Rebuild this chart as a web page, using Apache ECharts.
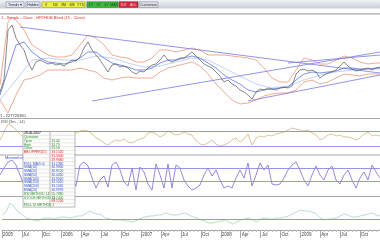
<!DOCTYPE html>
<html><head><meta charset="utf-8">
<script src="https://cdn.jsdelivr.net/npm/echarts@6/dist/echarts.min.js"></script>
<style>html,body{margin:0;padding:0;background:#fff}#c{width:380px;height:240px}</style>
</head><body><div id="c"></div>
<script>
// ---- data (x = trading-day index 0..95) ----
const priceVals = [26,38,88,93,80,73,68,56,48,56,58,56,54,55,53,54,52,55,58,57,61,70,76,68,63,58,52,46,53,54,51,52,50,46,44,47,46,50,53,54,58,63,58,56,58,60,60,63,66,62,58,54,52,50,46,42,36,38,34,32,28,26,23,19,26,29,28,30,29,28,30,31,30,32,44,48,49,47,48,46,40,43,45,46,48,52,56,52,49,47,48,49,50,48,50,51];
const bbUpper = [[0,33],[2,96],[3,101],[4,98],[6,88],[8,73],[10,68],[12,63],[14,61],[16,61],[18,63],[20,73],[22,83],[24,80],[26,73],[28,63],[30,61],[32,60],[34,56],[36,56],[38,60],[40,68],[42,68],[44,66],[46,68],[48,70],[50,68],[52,63],[54,63],[56,63],[58,62],[60,61],[62,60],[64,58],[66,50],[68,40],[70,36],[72,36],[74,48],[76,60],[78,58],[80,54],[82,54],[84,58],[86,62],[88,60],[90,56],[92,54],[94,55],[95,55]];
const bbLower = [[0,18],[2,5],[4,23],[6,38],[8,40],[10,43],[12,48],[14,48],[16,48],[18,48],[20,50],[22,48],[24,46],[26,40],[28,38],[30,40],[32,41],[34,40],[36,40],[38,40],[40,46],[42,50],[44,52],[46,54],[48,56],[50,52],[52,44],[54,34],[56,26],[58,18],[60,14],[62,15],[64,18],[66,22],[68,24],[70,25],[72,25],[74,28],[76,36],[78,38],[80,34],[82,36],[84,40],[86,44],[88,43],[90,42],[92,44],[94,44],[95,44]];
const maShort = [[0,23],[2,48],[4,73],[6,76],[8,66],[10,60],[12,56],[14,55],[16,54],[18,56],[20,60],[22,66],[24,66],[26,60],[28,55],[30,53],[32,51],[34,48],[36,48],[38,50],[40,55],[42,58],[44,58],[46,60],[48,62],[50,60],[52,55],[54,50],[56,43],[58,38],[60,34],[62,28],[64,26],[66,28],[68,29],[70,30],[72,31],[74,38],[76,44],[78,46],[80,45],[82,46],[84,47],[86,50],[88,50],[90,49],[92,49],[94,50],[95,50]];
const maLong = [[0,18],[4,38],[8,58],[12,60],[16,58],[20,58],[24,62],[28,60],[32,55],[36,51],[40,52],[44,56],[48,60],[52,58],[56,50],[60,42],[64,34],[68,30],[72,32],[76,38],[80,43],[84,46],[88,48],[92,49],[95,49]];
const trendA = [[5,91],[95,45]];
const trendB = [[23,17],[95,66]];
const trendC = [[62,17],[95,43]];
const trendD = [[72,55],[95,63]];
const osc1Vals = [15,23,31,29,25,21,17,13,10,12,15,17,15,13,15,17,14,16,18,22,24,25,24,21,17,15,12,10,13,15,14,16,13,12,14,16,17,22,23,21,18,20,24,22,20,21,23,21,20,14,11,10,12,15,11,9,10,12,15,17,13,16,21,10,17,19,18,20,19,21,22,23,25,27,26,25,24,25,22,20,15,17,20,21,19,20,18,18,17,15,17,21,23,19,20,19];
const osc1Levels = [24, 9];
const osc2Vals = [22,29,35,37,32,22,12,7,17,27,22,12,17,27,12,7,19,25,17,11,32,35,31,19,9,17,21,10,32,35,27,15,11,29,7,30,25,13,7,33,22,9,33,9,32,29,17,11,7,9,12,22,29,21,27,17,9,11,9,19,27,19,34,11,22,34,27,32,13,12,13,19,27,32,35,27,17,11,22,31,22,17,27,31,17,13,22,27,17,9,19,25,17,32,25,19];
const osc2Levels = [29, 16];
const osc3Vals = [15,18,27,24,18,16,12,11,10,9,11,12,12,11,12,13,13,12,13,14,14,16,19,17,16,15,12,11,10,10,10,9,9,8,10,12,13,14,14,15,15,17,16,15,15,16,17,15,13,12,10,9,7,7,8,9,10,8,6,8,10,11,12,10,8,11,12,11,11,12,12,13,14,16,18,20,19,19,18,16,12,10,11,11,12,14,16,15,13,13,14,15,16,17,15,14];
const osc3Levels = [11];
const xLabels = ["2005","Jul","Oct","2006","Apr","Jul","Oct","2007","Apr","Jul","Oct","2008","Apr","Jul","Oct","2009","Apr","Jul","Oct","2010"];
const toolbarYellow = ["V","1M","3M","6M","YTD"];
const toolbarGreen = ["1Y","3Y","5Y","MAX"];
const toolbarRed = ["10Y","ALL"];
const tableRows = [
 ["28-06-2007","#000","",""],
 ["Quotation","#2a8a2a","",""],
 ["Open","#2a8a2a","31.40","#2a8a2a"],
 ["High","#2a8a2a","31.75","#2a8a2a"],
 ["Close","#2a8a2a","31.50","#2a8a2a"],
 ["BB UPPER(15)","#e02020","33.1520","#e02020"],
 ["","","31.5600","#e02020"],
 ["","","29.9680","#e02020"],
 ["FULL MA(5.0)","#3050d0","31.2360","#3050d0"],
 ["SMA(10)","#3050d0","30.9800","#3050d0"],
 ["SMA(20)","#3050d0","30.8120","#3050d0"],
 ["SMA(50)","#3050d0","30.4450","#3050d0"],
 ["SMA(100)","#3050d0","31.9020","#3050d0"],
 ["SMA(150)","#3050d0","32.5010","#3050d0"],
 ["SMA(200)","#3050d0","33.1045","#3050d0"],
 ["EMA(20)","#3050d0","30.9976","#3050d0"],
 ["RSI METHOD 14","#2a8a2a","55.7880","#2a8a2a"],
 ["STOCH METHOD 14","#2a8a2a","71.2400","#2a8a2a"],
 ["","","68.1200","#e02020"],
 ["FULL DI METHOD 2","#2a8a2a","",""]
];

// ---- chart ----
const FONT = 'Liberation Sans';
const chart = echarts.init(document.getElementById('c'), null, {renderer:'canvas'});
const idx = a => a.map((v,i)=>[i,v]);
const levelColor = '#8a8ae6';
function levels(arr){
  return {silent:true, symbol:'none', label:{show:false},
    lineStyle:{color:levelColor, type:'solid', width:0.9}, data: arr.map(v=>({yAxis:v}))};
}
const grids = [
  {left:0,right:0,top:14,height:104},
  {left:0,right:0,top:120,height:35},
  {left:0,right:0,top:156,height:41},
  {left:0,right:0,top:197,height:33}
];
const yRanges = [[0,104],[0,35],[0,41],[0,33]];
const xAxes = grids.map((g,i)=>({
  type:'value', gridIndex:i, min:0, max:95, interval:5,
  show: i===3,
  axisLine:{show:true, lineStyle:{color:'#a0a0a0'}},
  axisTick:{show:true, length:8, lineStyle:{color:'#aaa'}},
  minorTick:{show:true, splitNumber:5, length:2, lineStyle:{color:'#c4c4c4'}},
  splitLine:{show:false},
  axisLabel:{show:true, showMaxLabel:false, align:'left', margin:2, fontSize:4.5, fontFamily:FONT, color:'#444', padding:[0,0,0,1],
    formatter: v => (v%5===0 ? (xLabels[v/5]||'') : '')}
}));
const yAxes = yRanges.map((r,i)=>({type:'value', gridIndex:i, min:r[0], max:r[1], show:false, splitLine:{show:false}}));
const line = (data, color, w, xi, extra) => Object.assign({type:'line', data, xAxisIndex:xi, yAxisIndex:xi, symbol:'none', lineStyle:{color, width:w}, silent:true, z:3}, extra||{});

const series = [
  line(bbUpper,'#e8876a',0.7,0),
  line(bbLower,'#e8876a',0.7,0),
  line(maLong,'#a8bff4',0.7,0),
  line(maShort,'#5a74e0',0.8,0),
  line(trendA,'#7a7ae0',0.8,0),
  line(trendB,'#7a7ae0',0.8,0),
  line(trendC,'#7a7ae0',0.8,0),
  line(trendD,'#7a7ae0',0.8,0),
  line(idx(priceVals),'#555555',0.7,0,{z:4}),
  line(idx(osc1Vals),'#cfa878',0.7,1,{markLine:levels(osc1Levels)}),
  line(idx(osc2Vals),'#8068d8',0.8,2,{markLine:levels(osc2Levels)}),
  line(idx(osc3Vals),'#98d0ac',0.7,3,{markLine:levels(osc3Levels)})
];

// graphics: toolbar, separators, labels, data table
const g = [];
g.push({type:'rect', shape:{x:0,y:0,width:380,height:8.5}, style:{fill:new echarts.graphic.LinearGradient(0,0,0,1,[{offset:0,color:'#f1f3f6'},{offset:1,color:'#c7ccd6'}])}, z:10});
g.push({type:'line', shape:{x1:0,y1:13.8,x2:380,y2:13.8}, style:{stroke:'#a8a8a8', lineWidth:1.2}, z:10});
function btn(x,w,fill,stroke,labels,tcolor){
  g.push({type:'rect', shape:{x:x,y:1.8,width:w,height:5.6}, style:{fill, stroke, lineWidth:0.6}, z:11});
  const step = w/labels.length;
  labels.forEach((t,i)=>g.push({type:'text', x:x+step*i+step/2, y:4.7, style:{text:t, fontSize:3.6, fontFamily:FONT, fill:tcolor, align:'center', verticalAlign:'middle'}, z:12}));
}
btn(6,18,'#e6eaf0','#7f8ea6',['Trends ▾'],'#223');
btn(26,14,'#e6eaf0','#7f8ea6',['Hidden'],'#223');
btn(42,43,'#eef04a','#9a9a30',toolbarYellow,'#333');
btn(87,31,'#3dbb3d','#2a7a2a',toolbarGreen,'#114411');
btn(119,19,'#c43042','#802030',toolbarRed,'#ffd0d0');
btn(139,19,'#dfe2e8','#8a8a9a',['Customize'],'#333');
// separators
[118.5,155,196.5].forEach(y=>g.push({type:'line', shape:{x1:0,y1:y,x2:380,y2:y}, style:{stroke:'#a6a6a6', lineWidth:1}, z:5}));
// labels
g.push({type:'text', x:1, y:15.5, style:{text:'1 - Simple - Close , HRTHDB Bbnd (15 , Close)', fontSize:4, fontFamily:FONT, fill:'#e03030'}, z:12});
g.push({type:'text', x:0, y:113.5, style:{text:'1 - 227720350', fontSize:4, fontFamily:FONT, fill:'#333'}, z:12});
g.push({type:'text', x:1, y:119.5, style:{text:'RSI (3m , 14)', fontSize:4, fontFamily:FONT, fill:'#555'}, z:12});
g.push({type:'text', x:5, y:155.8, style:{text:'Momentum', fontSize:4, fontFamily:FONT, fill:'#3050d0'}, z:12});
// table
const TX=23, TY=131.5, TW=52, RH=3.78, CX=50;
g.push({type:'rect', shape:{x:TX,y:TY,width:TW,height:RH*tableRows.length}, style:{fill:'#fdfdfb', stroke:'#8a8a8a', lineWidth:0.6}, z:20});
g.push({type:'line', shape:{x1:CX,y1:TY,x2:CX,y2:TY+RH*tableRows.length}, style:{stroke:'#8a8a8a', lineWidth:0.6}, z:21});
tableRows.forEach((r,i)=>{
  const y = TY + RH*i;
  if(i>0) g.push({type:'line', shape:{x1:TX,y1:y,x2:TX+TW,y2:y}, style:{stroke:'#c8c8c8', lineWidth:0.4}, z:21});
  if(r[0]) g.push({type:'text', x:TX+1, y:y+RH/2, style:{text:r[0], fontSize:3.3, fontFamily:FONT, fill:r[1], verticalAlign:'middle'}, z:22});
  if(r[2]) g.push({type:'text', x:CX+1.5, y:y+RH/2, style:{text:r[2], fontSize:3.3, fontFamily:FONT, fill:r[3], verticalAlign:'middle'}, z:22});
});

chart.setOption({
  animation:false,
  backgroundColor:'#ffffff',
  grid:grids, xAxis:xAxes, yAxis:yAxes, series, graphic:g
});
</script>
</body></html>
